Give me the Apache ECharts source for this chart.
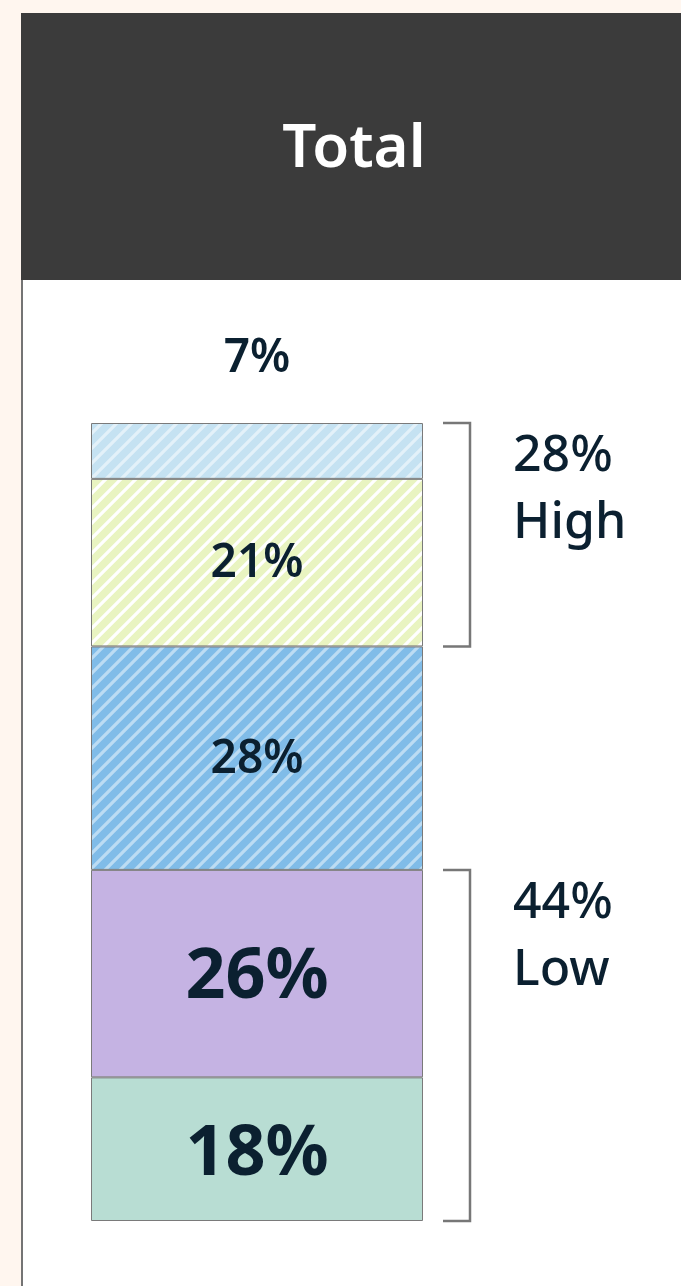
<!DOCTYPE html>
<html>
<head>
<meta charset="utf-8">
<script src="https://cdn.jsdelivr.net/npm/echarts@6/dist/echarts.min.js"></script>
<style>
html,body{margin:0;padding:0;background:#fff6ef;}
#chart{width:681px;height:1286px;}
</style>
</head>
<body>
<div id="chart"></div>
<script>
// ---- data ----
const categories = ['Total'];
const segmentNames = ['Seg1', 'Seg2', 'Seg3', 'Seg4', 'Seg5']; // bottom -> top
const segmentValues = [18, 26, 28, 21, 7];
const bracketRanges = [[72, 100], [0, 44]];
const bracketValues = ['28%', '44%'];
const bracketNames = ['High', 'Low'];
const titleText = 'Total';

// ---- styles ----
const FONT = '"Noto Sans", "Open Sans", sans-serif';
const TXT = '#0b2030';
function hatch(bg, stripe, size, w) {
  const c = document.createElement('canvas');
  c.width = c.height = size;
  const g = c.getContext('2d');
  g.fillStyle = bg; g.fillRect(0, 0, size, size);
  g.strokeStyle = stripe; g.lineWidth = w;
  g.beginPath();
  g.moveTo(-1, size + 1); g.lineTo(size + 1, -1);
  g.moveTo(-size / 2 - 1, size / 2 + 1); g.lineTo(size / 2 + 1, -size / 2 - 1);
  g.moveTo(size / 2 - 1, size * 1.5 + 1); g.lineTo(size * 1.5 + 1, size / 2 - 1);
  g.stroke();
  return { image: c, repeat: 'repeat' };
}
const fills = [
  '#b8ddd3',
  '#c5b3e3',
  hatch('#80bce8', '#bcdcf3', 15, 3.2),
  hatch('#e9f4c1', '#ffffff', 15, 3.2),
  hatch('#c5e2f2', '#e3f1f9', 15, 3.2)
];
const labelStyles = [
  { fontSize: 70, fontWeight: 700, position: 'inside', offset: [0, 6] },
  { fontSize: 70, fontWeight: 700, position: 'inside', offset: [0, 4] },
  { fontSize: 46, fontWeight: 600, position: 'inside', offset: [0, 2] },
  { fontSize: 46, fontWeight: 600, position: 'inside', offset: [0, 1] },
  { fontSize: 46, fontWeight: 600, position: 'top', distance: 41, offset: [0, 0] }
];

const chart = echarts.init(document.getElementById('chart'));
const series = segmentValues.map((v, i) => ({
  name: segmentNames[i],
  type: 'bar',
  stack: 'total',
  barWidth: '100%',
  data: [v],
  itemStyle: { color: fills[i], borderColor: '#7a7a7a', borderWidth: 1 },
  label: {
    show: true,
    position: labelStyles[i].position,
    distance: labelStyles[i].distance || 5,
    offset: labelStyles[i].offset,
    formatter: '{c}%',
    fontFamily: FONT,
    fontSize: labelStyles[i].fontSize,
    fontWeight: labelStyles[i].fontWeight,
    color: TXT
  },
  emphasis: { disabled: true },
  silent: true
}));

series.push({
  type: 'custom',
  silent: true,
  data: bracketRanges.map(r => [0, r[0], r[1]]),
  encode: { x: 0, y: [1, 2] },
  renderItem: function (params, api) {
    const yTop = api.coord([0, api.value(2)])[1];
    const yBot = api.coord([0, api.value(1)])[1];
    const cx = api.coord([0, api.value(2)])[0];
    const half = api.size([1, 0])[0] / 2;
    const xr = cx + half;
    const i = params.dataIndex;
    return {
      type: 'group',
      children: [
        {
          type: 'polyline',
          shape: { points: [[xr + 20, yTop], [xr + 47, yTop], [xr + 47, yBot], [xr + 20, yBot]] },
          style: { stroke: '#777777', lineWidth: 2.5, fill: null }
        },
        {
          type: 'text',
          x: xr + 90,
          y: yTop,
          style: {
            text: bracketValues[i] + '\n' + bracketNames[i],
            fontFamily: FONT,
            fontSize: 50,
            fontWeight: 500,
            lineHeight: 67,
            fill: TXT,
            align: 'left',
            verticalAlign: 'top'
          }
        }
      ]
    };
  }
});

chart.setOption({
  backgroundColor: '#fff6ef',
  animation: false,
  grid: { left: 91, right: 258, top: 423, bottom: 65 },
  xAxis: { type: 'category', data: categories, show: false },
  yAxis: { type: 'value', min: 0, max: 100, show: false },
  graphic: [
    { type: 'rect', z: -10, shape: { x: 21, y: 280, width: 660, height: 1006 }, style: { fill: '#ffffff' } },
    { type: 'rect', z: -9, shape: { x: 21, y: 280, width: 2, height: 1006 }, style: { fill: '#747474' } },
    { type: 'rect', z: -9, shape: { x: 21, y: 13, width: 660, height: 267 }, style: { fill: '#3b3b3b' } },
    { type: 'text', z: 10, x: 354, y: 150, style: { text: titleText, fontFamily: FONT, fontSize: 60, fontWeight: 600, fill: '#ffffff', align: 'center', verticalAlign: 'middle' } }
  ],
  series: series
});
</script>
</body>
</html>
